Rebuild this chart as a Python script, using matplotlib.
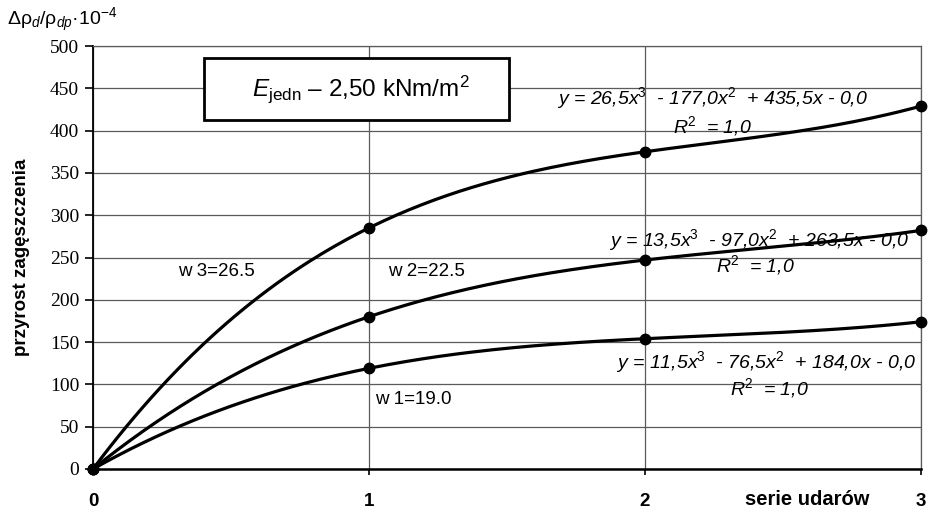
import numpy as np
import matplotlib.pyplot as plt
from matplotlib.patches import Rectangle

# measurement series (x = serie udarów, y = przyrost zagęszczenia)
serie = [0, 1, 2, 3]
w1 = [0, 119, 154, 174]
w2 = [0, 180, 247, 282]
w3 = [0, 285, 375, 429]

labels = ["w 1=19.0", "w 2=22.5", "w 3=26.5"]
equations = [
    "y = 11,5x$^{3}$  - 76,5x$^{2}$  + 184,0x - 0,0",
    "y = 13,5x$^{3}$  - 97,0x$^{2}$  + 263,5x - 0,0",
    "y = 26,5x$^{3}$  - 177,0x$^{2}$  + 435,5x - 0,0",
]

plt.rcParams['font.family'] = ['Liberation Sans', 'DejaVu Sans']
plt.rcParams['mathtext.fontset'] = 'custom'
plt.rcParams['mathtext.rm'] = 'Liberation Sans'
plt.rcParams['mathtext.it'] = 'Liberation Sans:italic'

fig = plt.figure(figsize=(9.29, 5.09), dpi=100)
ax = fig.add_axes([0.1001, 0.0786, 0.8913, 0.831])

# cubic trendlines through the measured points
xs = np.linspace(0, 3, 200)
for ys in (w1, w2, w3):
    coef = np.polyfit(serie, ys, 3)
    ax.plot(xs, np.polyval(coef, xs), color='black', lw=2.3, zorder=3)
    ax.plot(serie, ys, 'o', color='black', ms=7.5, zorder=4, clip_on=False)

ax.set_xlim(0, 3)
ax.set_ylim(0, 500)
ax.set_yticks(range(0, 501, 50))
ax.set_xticks(serie)
ax.grid(True, color='#5a5a5a', lw=0.9)
ax.set_axisbelow(True)
for s in ax.spines.values():
    s.set_color('#5a5a5a')
    s.set_linewidth(0.9)
ax.spines['bottom'].set_color('black')
ax.spines['bottom'].set_linewidth(1.8)
ax.spines['left'].set_color('black')
ax.spines['left'].set_linewidth(1.3)

ax.tick_params(axis='y', direction='out', length=6, width=1.2, pad=4, labelsize=14)
ax.tick_params(axis='x', direction='out', length=4, width=1.2, pad=13, labelsize=13.5)
for t in ax.get_yticklabels():
    t.set_fontfamily('Liberation Serif')
for t in ax.get_xticklabels():
    t.set_fontweight('bold')

ax.set_ylabel('przyrost zagęszczenia', fontsize=13.5, fontweight='bold')
ax.yaxis.set_label_coords(-0.076, 0.5)

fig.text(0.008, 0.961, r'Δρ$_{d}$/ρ$_{dp}$·10$^{-4}$', fontsize=14, va='center')
fig.text(0.869, 0.0196, 'serie udarów', fontsize=14.5, fontweight='bold',
         ha='center', va='center')

# title box
ax.add_patch(Rectangle((0.402, 412.5), 1.105, 73.3, fill=True, fc='white',
                       ec='black', lw=2.0, zorder=5))
ax.text(0.971, 449, r'$E$$_{\mathrm{jedn}}$ – 2,50 kNm/m$^2$', fontsize=17.5,
        ha='center', va='center', zorder=6)

# series labels
ax.text(0.446, 234, labels[2], fontsize=13.5, ha='center', va='center')
ax.text(1.207, 234, labels[1], fontsize=13.5, ha='center', va='center')
ax.text(1.16, 81.6, labels[0], fontsize=13.5, ha='center', va='center')

# trendline equations
eq_style = dict(fontsize=14, style='italic', ha='center', va='center', zorder=5)
ax.text(2.243, 438.6, equations[2], **eq_style)
ax.text(2.243, 405, r'R$^{2}$  = 1,0', **eq_style)
ax.text(2.413, 270.7, equations[1], **eq_style)
ax.text(2.40, 241, r'R$^{2}$  = 1,0', **eq_style)
ax.text(2.44, 126.5, equations[0], **eq_style)
ax.text(2.45, 95.7, r'R$^{2}$  = 1,0', **eq_style)

fig.savefig('out.png', dpi=100)
